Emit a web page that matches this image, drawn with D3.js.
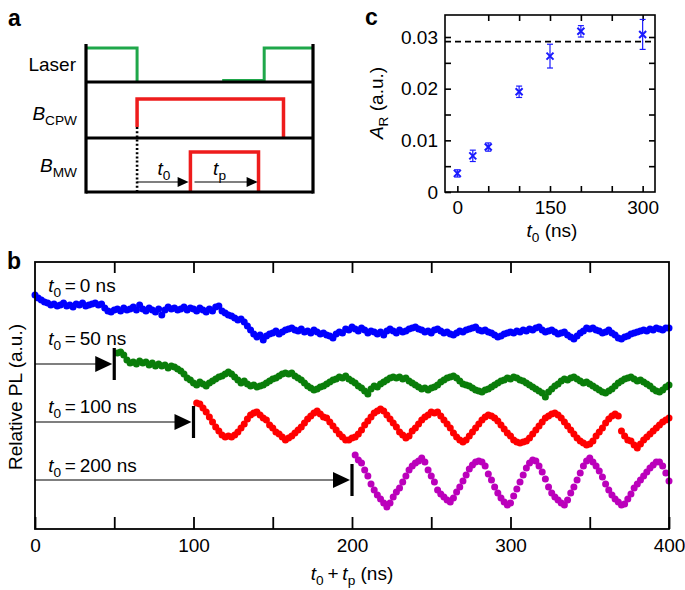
<!DOCTYPE html>
<html><head><meta charset="utf-8">
<script src="https://cdn.jsdelivr.net/npm/d3@7"></script>
<style>
body{margin:0;background:#fff}
svg{display:block}
text{font-family:"Liberation Sans",Arial,Helvetica,sans-serif;fill:#000}
</style>
</head><body>
<script>
// ---------------- Panel b data (relative PL, arbitrary units; sampled every 2 ns) ----------------
const tStep = 2;
const blueStart = 0, greenStart = 52, redStart = 102, purpleStart = 202;
const blueVals = [234,231,229,227,226,224,225,223,224,226,223,224,222,225,224,226,223,224,225,226,
224,225,221,218,217,219,220,218,221,219,220,222,219,224,220,218,221,219,217,220,
214,219,222,220,221,219,220,222,219,221,220,218,221,219,217,220,218,222,223,218,
216,214,213,211,209,210,207,203,199,195,192,194,189,193,195,196,198,195,197,199,
200,201,199,198,200,197,198,196,199,197,195,196,194,193,191,195,197,196,200,199,
202,200,198,201,199,196,198,197,195,197,194,198,200,198,196,199,197,198,200,201,
202,200,199,197,198,196,199,200,198,196,197,195,194,196,198,197,199,200,201,202,
199,198,199,197,196,194,192,193,195,196,197,196,198,197,199,198,200,199,201,202,
199,197,198,199,197,195,196,197,194,192,190,193,196,198,201,200,201,199,198,196,
197,199,196,194,191,190,192,193,195,196,197,198,199,198,200,199,201,200,199,201,201];
const greenVals = [176,177,174,169,166,167,165,168,166,167,164,166,163,165,163,164,161,163,162,160,
158,155,151,149,146,144,147,145,143,146,148,150,152,153,155,157,155,152,149,146,
148,145,143,144,142,143,144,146,148,150,151,153,155,156,155,156,153,151,149,146,
143,141,139,140,142,143,145,147,149,150,152,151,153,150,148,146,143,141,138,135,
140,143,142,145,147,149,151,152,151,152,150,151,148,146,144,142,140,141,139,141,
142,144,147,149,151,152,153,151,148,145,144,143,141,139,138,137,139,140,142,144,
146,148,149,151,150,152,151,149,148,146,144,142,140,138,136,132,137,140,143,145,
148,150,149,151,152,150,148,146,147,145,143,141,139,137,136,138,140,143,146,148,
150,151,152,150,148,149,147,145,143,140,138,137,139,142,144];
const redVals = [126,125,121,117,112,107,102,98,94,92,93,92,94,97,101,105,110,114,116,117,
114,111,109,104,101,97,95,92,89,91,93,96,99,102,106,110,113,116,118,115,
112,111,107,103,99,95,92,89,89,91,92,95,99,104,108,112,116,118,120,118,
114,110,106,102,97,94,91,93,98,101,105,109,112,114,117,116,117,113,109,105,
101,96,92,89,87,89,93,97,101,105,109,112,114,113,111,108,104,100,96,93,
89,87,86,87,88,91,95,99,103,107,111,113,115,116,114,111,107,103,99,95,
91,88,86,84,85,88,93,97,101,106,110,113,115,113,98,93,89,88,84,81,
85,89,92,95,98,101,104,107,109,111];
const purpleVals = [74,69,66,59,53,45,39,34,30,26,22,26,32,37,41,47,53,59,63,66,
68,71,67,59,53,47,39,35,32,29,27,31,37,42,48,54,60,64,67,68,
67,63,55,49,42,36,31,27,24,26,33,40,47,54,61,66,69,68,63,57,
50,42,36,32,29,26,24,29,36,42,49,56,63,68,71,67,63,58,52,45,
39,34,30,27,24,25,30,35,41,45,49,53,57,61,64,67,67,63,56,48];
const bSeriesColors = ["#0000ff","#0a7d0a","#ff0000","#bb00bb"];
const t0Values = [0, 50, 100, 200];
const t0Labels = ["0 ns", "50 ns", "100 ns", "200 ns"];
const labelLevels = [237, 184, 116, 57];
const arrowLevels = [null, 165, 107, 49];
const bTicks = [0,50,100,150,200,250,300,350,400];
const bTickLabels = [0,100,200,300,400];

// ---------------- Panel c data ----------------
const cT0 = [0, 25, 50, 100, 150, 200, 300];
const cAR = [0.0036, 0.0070, 0.0087, 0.0194, 0.0263, 0.0311, 0.0305];
const cErr = [0.0007, 0.0011, 0.0008, 0.0011, 0.0023, 0.0011, 0.0029];
const cLimit = 0.0291;
const cYTicks = [0,0.005,0.01,0.015,0.02,0.025,0.03];
const cYTickLabels = [0, 0.01, 0.02, 0.03];
const cXTicks = [0,50,100,150,200,250,300];
const cXTickLabels = [0, 150, 300];

// ---------------- Panel a (pulse sequence, schematic time units 0-100) ----------------
const laserOn = [[0, 22.5], [78.5, 100]];
const laserIdle = [60, 78.5];
const cpwOn = [22.5, 87];
const mwOn = [46, 76];

const W = 685, H = 590;
const svg = d3.select("body").append("svg").attr("width", W).attr("height", H);
const FS = 19;

// ===== Panel a =====
const xa = d3.scaleLinear().domain([0, 100]).range([86, 313]);
const ga = svg.append("g");
ga.append("text").attr("x", 8).attr("y", 26).attr("font-size", 23).attr("font-weight", "bold").text("a");
const laserBase = 82, laserTop = 48, cpwBase = 138, cpwTop = 99, mwBase = 192, mwTop = 152;
const green = "#1fa74a", redA = "#ee1c1c";
ga.append("path").attr("fill", "none").attr("stroke", green).attr("stroke-width", 3)
  .attr("d", `M${xa(laserOn[0][0])},${laserTop}H${xa(laserOn[0][1])}V${laserBase}`);
ga.append("path").attr("fill", "none").attr("stroke", green).attr("stroke-width", 3)
  .attr("d", `M${xa(laserIdle[0])},${laserBase - 1.5}H${xa(laserOn[1][0])}V${laserTop}H${xa(laserOn[1][1])}`);
ga.append("path").attr("fill", "none").attr("stroke", redA).attr("stroke-width", 3.5)
  .attr("d", `M${xa(cpwOn[0])},${cpwBase - 11}V${cpwTop}H${xa(cpwOn[1])}V${cpwBase}`);
ga.append("path").attr("fill", "none").attr("stroke", redA).attr("stroke-width", 3.5)
  .attr("d", `M${xa(mwOn[0])},${mwBase}V${mwTop}H${xa(mwOn[1])}V${mwBase}`);
[laserBase, cpwBase, mwBase].forEach(y => {
  ga.append("line").attr("x1", xa(0)).attr("x2", xa(100)).attr("y1", y).attr("y2", y)
    .attr("stroke", "#000").attr("stroke-width", 3.2);
});
[0, 100].forEach(t => {
  ga.append("line").attr("x1", xa(t)).attr("x2", xa(t)).attr("y1", 44).attr("y2", 193.6)
    .attr("stroke", "#000").attr("stroke-width", 3.2);
});
ga.append("line").attr("x1", xa(cpwOn[0])).attr("x2", xa(cpwOn[0])).attr("y1", cpwBase - 11).attr("y2", mwBase)
  .attr("stroke", "#000").attr("stroke-width", 2.6).attr("stroke-dasharray", "2,2.2");
function arrowA(t1, t2, y) {
  const x1 = xa(t1), x2 = xa(t2);
  ga.append("line").attr("x1", x1).attr("x2", x2 - 10).attr("y1", y).attr("y2", y).attr("stroke", "#000").attr("stroke-width", 1.2);
  ga.append("path").attr("d", `M${x2},${y}L${x2 - 11},${y - 5}L${x2 - 11},${y + 5}Z`).attr("fill", "#000");
}
arrowA(cpwOn[0], mwOn[0] - 0.8, 182);
arrowA(mwOn[0] + 1.8, mwOn[1] - 0.4, 182);
function subText(g, x, y, main, sub, opts = {}) {
  const fs = opts.fs || FS;
  const t = g.append("text").attr("x", x).attr("y", y).attr("font-size", fs)
    .attr("text-anchor", opts.anchor || "start");
  if (opts.rotate) t.attr("transform", `rotate(-90,${x},${y})`);
  t.append("tspan").attr("font-style", "italic").text(main);
  t.append("tspan").attr("dy", opts.dy || 5).attr("font-size", fs * 0.72).text(sub);
  if (opts.rest) t.append("tspan").attr("dy", -(opts.dy || 5)).text(opts.rest);
  return t;
}
subText(ga, xa(31.5), 175, "t", "0");
subText(ga, xa(56), 175, "t", "p");
ga.append("text").attr("x", 76).attr("y", 71).attr("font-size", FS).attr("text-anchor", "end").text("Laser");
subText(ga, 77, 120, "B", "CPW", {anchor: "end"});
subText(ga, 77, 172, "B", "MW", {anchor: "end"});

// ===== Panel c =====
const xc = d3.scaleLinear().domain([-20, 320]).range([445, 655]);
const yc = d3.scaleLinear().domain([0, 0.03426]).range([192, 15]);
const gc = svg.append("g");
gc.append("text").attr("x", 365).attr("y", 25).attr("font-size", 23).attr("font-weight", "bold").text("c");
gc.append("rect").attr("x", xc(-20)).attr("y", yc(0.03426)).attr("width", xc(320) - xc(-20)).attr("height", yc(0) - yc(0.03426))
  .attr("fill", "none").attr("stroke", "#000").attr("stroke-width", 1.6);
const cfmt = d => cYTickLabels.includes(d) ? (d === 0 ? "0" : d3.format(".2f")(d)) : "";
const axL = gc.append("g").attr("transform", `translate(${xc(-20)},0)`)
  .call(d3.axisLeft(yc).tickValues(cYTicks).tickSize(-6).tickPadding(7).tickFormat(cfmt));
const axR = gc.append("g").attr("transform", `translate(${xc(320)},0)`)
  .call(d3.axisRight(yc).tickValues(cYTicks.slice(1)).tickSize(-6).tickFormat(""));
const axB = gc.append("g").attr("transform", `translate(0,${yc(0)})`)
  .call(d3.axisBottom(xc).tickValues(cXTicks).tickSize(-6).tickPadding(9).tickFormat(d => cXTickLabels.includes(d) ? d : ""));
const axT = gc.append("g").attr("transform", `translate(0,${yc(0.03426)})`)
  .call(d3.axisTop(xc).tickValues(cXTicks.slice(1)).tickSize(-6).tickFormat(""));
[axL, axR, axB, axT].forEach(a => {
  a.select(".domain").remove();
  a.selectAll(".tick line").attr("stroke", "#000").attr("stroke-width", 1.6);
  a.selectAll("text").attr("font-size", FS).attr("font-family", "Liberation Sans, Arial, sans-serif").attr("fill", "#000");
});
gc.append("line").attr("x1", xc(-20)).attr("x2", xc(320)).attr("y1", yc(cLimit)).attr("y2", yc(cLimit))
  .attr("stroke", "#000").attr("stroke-width", 1.6).attr("stroke-dasharray", "6,4");
const cBlue = "#1a1aff";
cT0.forEach((t, i) => {
  const x = xc(t), y = yc(cAR[i]), y1 = yc(cAR[i] + cErr[i]), y2 = yc(cAR[i] - cErr[i]);
  gc.append("line").attr("x1", x).attr("x2", x).attr("y1", y1).attr("y2", y2).attr("stroke", cBlue).attr("stroke-width", 1.2);
  [y1, y2].forEach(yy => gc.append("line").attr("x1", x - 3).attr("x2", x + 3).attr("y1", yy).attr("y2", yy).attr("stroke", cBlue).attr("stroke-width", 1.2));
  gc.append("path").attr("d", `M${x - 3.5},${y - 3.5}L${x + 3.5},${y + 3.5}M${x - 3.5},${y + 3.5}L${x + 3.5},${y - 3.5}`)
    .attr("stroke", cBlue).attr("stroke-width", 2);
});
subText(gc, 383, 103, "A", "R", {anchor: "middle", rotate: true, rest: " (a.u.)"});
subText(gc, 552, 237, "t", "0", {anchor: "middle", rest: " (ns)"});

// ===== Panel b =====
const xb = d3.scaleLinear().domain([0, 400]).range([35, 669]);
const yb = d3.scaleLinear().domain([0, 267]).range([529, 262]);
const gb = svg.append("g");
gb.append("text").attr("x", 7).attr("y", 269).attr("font-size", 23).attr("font-weight", "bold").text("b");
const series = [
  {vals: blueVals, start: blueStart},
  {vals: greenVals, start: greenStart},
  {vals: redVals, start: redStart},
  {vals: purpleVals, start: purpleStart}
];
series.forEach((s, k) => {
  gb.append("g").selectAll("circle").data(s.vals).enter().append("circle")
    .attr("cx", (d, i) => xb(s.start + i * tStep)).attr("cy", d => yb(d)).attr("r", 3.5)
    .attr("fill", bSeriesColors[k]);
});
t0Values.forEach((t0, i) => {
  const t = gb.append("text").attr("x", xb(8.3)).attr("y", yb(labelLevels[i])).attr("font-size", FS);
  t.append("tspan").attr("font-style", "italic").text("t");
  t.append("tspan").attr("dy", 5).attr("font-size", FS * 0.72).text("0");
  t.append("tspan").attr("dy", -5).text("\u2009=\u2009" + t0Labels[i]);
  if (arrowLevels[i] !== null) {
    const y = yb(arrowLevels[i]), xe = xb(t0);
    gb.append("line").attr("x1", xb(0)).attr("x2", xe - 12).attr("y1", y).attr("y2", y).attr("stroke", "#000").attr("stroke-width", 1.2);
    gb.append("path").attr("d", `M${xe - 2},${y}L${xe - 19},${y - 8}L${xe - 19},${y + 8}Z`).attr("fill", "#000");
    gb.append("line").attr("x1", xe).attr("x2", xe).attr("y1", y - 16).attr("y2", y + 16).attr("stroke", "#000").attr("stroke-width", 3.2);
  }
});
gb.append("rect").attr("x", xb(0)).attr("y", yb(267)).attr("width", xb(400) - xb(0)).attr("height", yb(0) - yb(267))
  .attr("fill", "none").attr("stroke", "#000").attr("stroke-width", 1.8);
const bxB = gb.append("g").attr("transform", `translate(0,${yb(0)})`)
  .call(d3.axisBottom(xb).tickValues(bTicks).tickSize(-12).tickPadding(10).tickFormat(d => bTickLabels.includes(d) ? d : ""));
const bxT = gb.append("g").attr("transform", `translate(0,${yb(267)})`)
  .call(d3.axisTop(xb).tickValues(bTicks.slice(1, -1)).tickSize(-11).tickFormat(""));
[bxB, bxT].forEach(a => {
  a.select(".domain").remove();
  a.selectAll(".tick line").attr("stroke", "#000").attr("stroke-width", 1.8);
  a.selectAll("text").attr("font-size", FS).attr("font-family", "Liberation Sans, Arial, sans-serif").attr("fill", "#000");
});
gb.append("text").attr("x", 22).attr("y", 397).attr("font-size", FS).attr("text-anchor", "middle")
  .attr("transform", "rotate(-90,22,397)").text("Relative PL (a.u.)");
const xt = gb.append("text").attr("x", 352).attr("y", 580).attr("font-size", FS).attr("text-anchor", "middle");
xt.append("tspan").attr("font-style", "italic").text("t");
xt.append("tspan").attr("dy", 5).attr("font-size", FS * 0.72).text("0");
xt.append("tspan").attr("dy", -5).text("\u2009+\u2009");
xt.append("tspan").attr("font-style", "italic").text("t");
xt.append("tspan").attr("dy", 5).attr("font-size", FS * 0.72).text("p");
xt.append("tspan").attr("dy", -5).text(" (ns)");
</script>
</body></html>
